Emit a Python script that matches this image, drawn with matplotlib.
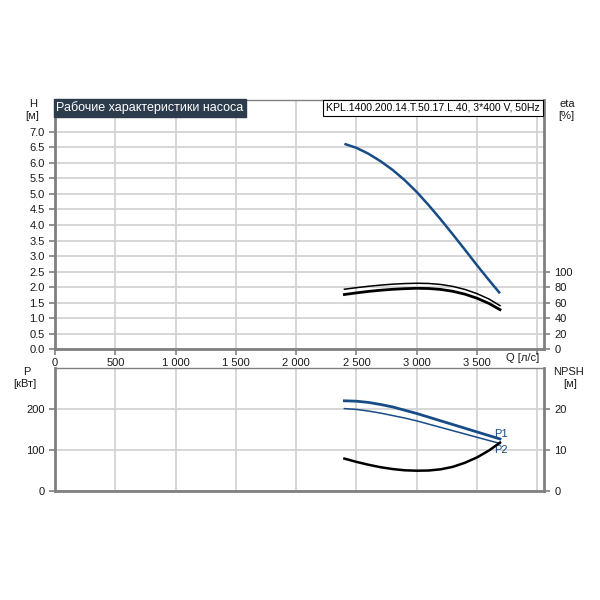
import matplotlib
matplotlib.use("Agg")
import matplotlib.pyplot as plt
from matplotlib.ticker import FixedLocator, FuncFormatter

plt.rcParams['font.family'] = ['Liberation Sans', 'DejaVu Sans']

# ---- data ----
q = [2400, 2500, 2600, 2700, 2800, 2900, 3000, 3100, 3200, 3300, 3400, 3500, 3600, 3690]
head = [6.61, 6.48, 6.29, 6.05, 5.77, 5.44, 5.06, 4.63, 4.17, 3.69, 3.20, 2.70, 2.22, 1.80]
eta_pump = [77.3, 79.3, 81.1, 82.6, 83.8, 84.6, 85.0, 84.7, 83.4, 80.9, 77.0, 71.6, 64.6, 56.2]
eta_total = [70.5, 72.6, 74.5, 76.0, 77.2, 78.0, 78.5, 78.2, 77.0, 74.6, 70.9, 65.7, 58.9, 51.0]
p1 = [220, 219, 216, 211, 205, 197, 189, 180, 171, 162, 153, 144, 135, 127]
p2 = [201, 199, 195, 190, 184, 178, 171, 163, 155, 147, 139, 131, 123, 116]
npsh = [7.9, 7.1, 6.4, 5.8, 5.35, 5.05, 4.95, 5.0, 5.3, 5.9, 6.9, 8.2, 9.9, 11.8]

x_ticks = [0, 500, 1000, 1500, 2000, 2500, 3000, 3500]
h_ticks = [0.0, 0.5, 1.0, 1.5, 2.0, 2.5, 3.0, 3.5, 4.0, 4.5, 5.0, 5.5, 6.0, 6.5, 7.0]
eta_ticks = [0, 20, 40, 60, 80, 100]
p_ticks = [0, 100, 200]
npsh_ticks = [0, 10, 20]

title_text = "Рабочие характеристики насоса"
model_text = "KPL.1400.200.14.T.50.17.L.40, 3*400 V, 50Hz"

# ---- style ----
BLUE = '#174c86'
GRID = '#d3d3d3'
SPINE = '#808080'
TXT = '#1a1a1a'
FS = 8

fig = plt.figure(figsize=(6, 6), dpi=100)
W, H = 600, 600
def rect(l, t, r, b):
    return [l / W, 1 - b / H, (r - l) / W, (b - t) / H]

ax1 = fig.add_axes(rect(55, 100, 544, 349.3))
ax2 = fig.add_axes(rect(55, 368, 544, 491))

XMAX = 4055
for ax in (ax1, ax2):
    ax.set_xlim(0, XMAX)
    ax.xaxis.set_major_locator(FixedLocator(x_ticks + [4000]))
    ax.grid(True, color=GRID, lw=1.3)
    ax.set_axisbelow(True)
    for s in ('left', 'bottom', 'right'):
        ax.spines[s].set_color(SPINE)
        ax.spines[s].set_linewidth(2.0)
    ax.spines['top'].set_color(SPINE)
    ax.spines['top'].set_linewidth(1.0)
    ax.tick_params(axis='both', colors=SPINE, labelcolor=TXT, labelsize=FS,
                   length=4, width=1.2, direction='out')

fmt_thousands = FuncFormatter(lambda v, p: '' if v >= 4000 else f"{int(v):,}".replace(',', ' '))
ax1.xaxis.set_major_formatter(fmt_thousands)
ax2.tick_params(axis='x', labelbottom=False, length=0)
ax1.tick_params(axis='x', pad=2)

# top panel
ax1.set_ylim(0, 8.02)
ax1.yaxis.set_major_locator(FixedLocator(h_ticks))
ax1.yaxis.set_major_formatter(FuncFormatter(lambda v, p: f"{v:.1f}"))
ax1.plot(q, head, color=BLUE, lw=1.8, solid_capstyle='butt')

ax1b = ax1.twinx()
ax1b.set_ylim(0, 8.02 * 40)
ax1b.yaxis.set_major_locator(FixedLocator(eta_ticks))
ax1b.tick_params(axis='y', colors=SPINE, labelcolor=TXT, labelsize=FS, length=4, width=1.2)
for s in ax1b.spines.values():
    s.set_visible(False)
ax1b.plot(q, eta_pump, color='black', lw=1.1)
ax1b.plot(q, eta_total, color='black', lw=2.0)

# bottom panel
ax2.set_ylim(0, 300)
ax2.yaxis.set_major_locator(FixedLocator(p_ticks))
ax2.plot(q, p1, color=BLUE, lw=2.0)
ax2.plot(q, p2, color=BLUE, lw=1.1)
ax2b = ax2.twinx()
ax2b.set_ylim(0, 30)
ax2b.yaxis.set_major_locator(FixedLocator(npsh_ticks))
ax2b.tick_params(axis='y', colors=SPINE, labelcolor=TXT, labelsize=FS, length=4, width=1.2)
for s in ax2b.spines.values():
    s.set_visible(False)
ax2b.plot(q, npsh, color='black', lw=1.8)

ax2.text(q[-1] + 10, p1[-1] + 1, "P1", color=BLUE, fontsize=FS, ha='center', va='bottom')
ax2.text(q[-1] + 10, p2[-1] - 5, "P2", color=BLUE, fontsize=FS, ha='center', va='top')

# axis labels
def ftext(x, y, s, ha='center'):
    fig.text(x / W, 1 - y / H, s, fontsize=FS, color=TXT, ha=ha, va='center')
ftext(33, 104, "H")
ftext(32, 116, "[м]")
ftext(567, 104, "eta")
ftext(566, 116, "[%]")
ftext(27, 372, "P")
ftext(25, 384, "[кВт]")
ftext(569, 372, "NPSH")
ftext(570, 384, "[м]")
ftext(539, 358, "Q [л/с]", ha='right')

# title boxes
fig.text(56 / W, 1 - 108 / H, title_text, fontsize=9, color='white', ha='left', va='center',
         bbox=dict(boxstyle='square,pad=0.2', fc='#2c3c4d', ec='#2c3c4d'))
fig.text(540 / W, 1 - 108 / H, model_text, fontsize=7.6, color='black', ha='right', va='center',
         bbox=dict(boxstyle='square,pad=0.3', fc='white', ec='black', lw=0.8))

fig.savefig("out.png", dpi=100)
